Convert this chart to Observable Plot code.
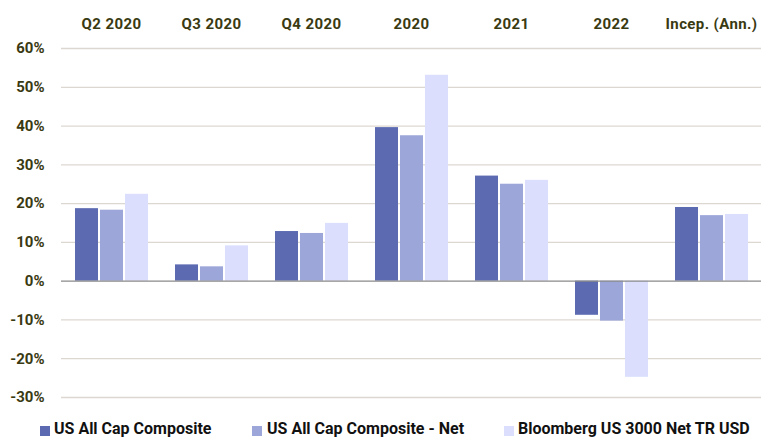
<!DOCTYPE html>
<html>
<head>
<meta charset="utf-8">
<script src="https://cdn.jsdelivr.net/npm/d3@7"></script>
<script src="https://cdn.jsdelivr.net/npm/@observablehq/plot@0.6"></script>
<style>
  html, body { margin: 0; padding: 0; background: #fff; }
  #wrap { position: relative; width: 762px; height: 439px; overflow: hidden; }
  #legend { position: absolute; left: 0; top: 420px; width: 762px; height: 17px;
    font-family: "Roboto", sans-serif; font-weight: bold; font-size: 16px; color: #111; }
  .sw { position: absolute; top: 6px; width: 10px; height: 10px; }
  .tx { position: absolute; top: 0; height: 17px; line-height: 17px; white-space: nowrap; }
</style>
</head>
<body>
<div id="wrap">
  <div id="chart"></div>
  <div id="legend"></div>
</div>
<script>
const categories = ["Q2 2020", "Q3 2020", "Q4 2020", "2020", "2021", "2022", "Incep. (Ann.)"];
const seriesNames = ["US All Cap Composite", "US All Cap Composite - Net", "Bloomberg US 3000 Net TR USD"];
const composite    = [18.7, 4.2, 12.8, 39.6, 27.1, -8.8, 19.0];
const compositeNet = [18.3, 3.7, 12.3, 37.5, 25.0, -10.3, 16.9];
const benchmark    = [22.4, 9.1, 14.9, 53.1, 26.0, -24.8, 17.2];
const colors = ["#5c6bb1", "#9da6d9", "#dbdffd"];
const yTicks = [-30, -20, -10, 0, 10, 20, 30, 40, 50, 60];

const seriesValues = [composite, compositeNet, benchmark];
const data = [];
categories.forEach((c, i) => {
  seriesNames.forEach((s, j) => data.push({category: c, series: s, value: seriesValues[j][i]}));
});

const textColor = "#3a3a12";
const chart = Plot.plot({
  width: 762,
  height: 418,
  marginTop: 48,
  marginBottom: 21,
  marginLeft: 61,
  marginRight: 1,
  style: {fontFamily: "Roboto, sans-serif", background: "white"},
  fx: {domain: categories, padding: 0, label: null},
  x: {domain: seriesNames, paddingInner: 0.1, paddingOuter: 0.5, axis: null},
  y: {domain: [-30, 60], label: null},
  color: {domain: seriesNames, range: colors},
  marks: [
    Plot.ruleY(yTicks.filter(d => d !== 0), {stroke: "#ddd7d1", strokeWidth: 1.3}),
    Plot.barY(data, {fx: "category", x: "series", y: "value", fill: "series"}),
    Plot.ruleY([0], {stroke: "#8a8a8a", strokeWidth: 1.3}),
    Plot.axisY(yTicks, {tickSize: 0, tickPadding: 17, tickFormat: d => d + "%",
      fontSize: 15, fontWeight: "bold", fill: textColor, label: null}),
    Plot.axisFx({anchor: "top", tickSize: 0, tickPadding: 20, fontSize: 15,
      fontWeight: "bold", fill: textColor, label: null})
  ]
});
chart.querySelectorAll("g[aria-label='fx-axis tick label'] text").forEach(t => t.setAttribute("letter-spacing", "0.4"));
document.getElementById("chart").appendChild(chart);

const legendPos = [[40, 54], [252, 267], [504, 518]];
const legend = document.getElementById("legend");
seriesNames.forEach((s, j) => {
  const sw = document.createElement("span");
  sw.className = "sw";
  sw.style.left = legendPos[j][0] + "px";
  sw.style.background = colors[j];
  const t = document.createElement("span");
  t.className = "tx";
  t.style.left = legendPos[j][1] + "px";
  t.textContent = s;
  legend.appendChild(sw);
  legend.appendChild(t);
});
</script>
</body>
</html>
